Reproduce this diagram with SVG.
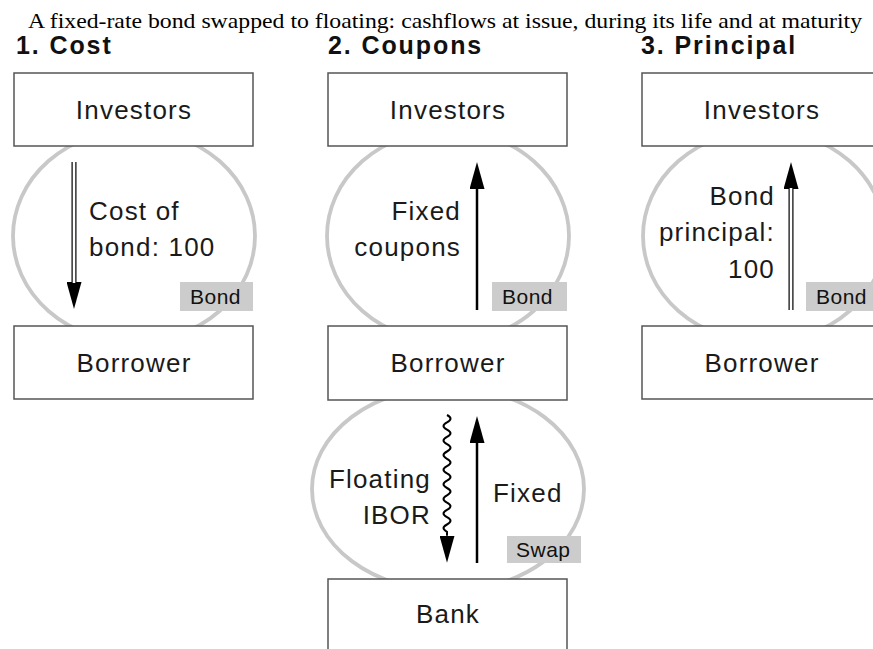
<svg xmlns="http://www.w3.org/2000/svg" width="873" height="649" viewBox="0 0 873 649">
<style>
.title{font-family:"Liberation Serif","Times New Roman",serif;font-size:21px;fill:#000}
.head{font-family:"Liberation Sans",Arial,sans-serif;font-size:25px;font-weight:bold;fill:#111;letter-spacing:1.9px}
.box{fill:#fff;stroke:#555;stroke-width:1.5}
.lbl{font-family:"Liberation Sans",Arial,sans-serif;font-size:26px;fill:#1a1a1a;letter-spacing:1.2px}
.ring{fill:none;stroke:#c8c8c8;stroke-width:3.8}
.tag{fill:#cccccc}
.tagt{font-family:"Liberation Sans",Arial,sans-serif;font-size:21px;fill:#111;letter-spacing:0.5px}
.arr{stroke:#000;stroke-width:2.5;fill:none}
.dbl{stroke:#000;stroke-width:5;fill:none}
.dbli{stroke:#fff;stroke-width:2.6;fill:none}
.wave{stroke:#000;stroke-width:2;fill:none}
</style>
<defs>
<marker id="head" markerUnits="userSpaceOnUse" markerWidth="27" markerHeight="15" refX="0" refY="7.5" orient="auto">
<path d="M0,0 L27,7.5 L0,15 z" fill="#000"/>
</marker>
</defs>

<text class="title" x="28" y="28" textLength="834" lengthAdjust="spacingAndGlyphs">A fixed-rate bond swapped to floating: cashflows at issue, during its life and at maturity</text>
<text class="head" x="16" y="54">1. Cost</text>
<text class="head" x="328" y="54">2. Coupons</text>
<text class="head" x="641" y="54">3. Principal</text>

<g id="rings">
<ellipse class="ring" cx="134" cy="236" rx="121" ry="106"/>
<ellipse class="ring" cx="448" cy="236" rx="121" ry="106"/>
<ellipse class="ring" cx="764" cy="236" rx="121" ry="106"/>
<ellipse class="ring" cx="448" cy="489" rx="136" ry="102"/>
</g>

<g id="connectors">
<line class="dbl" x1="74" y1="162" x2="74" y2="282" marker-end="url(#head)"/>
<line class="dbli" x1="74" y1="160" x2="74" y2="283"/>
<line class="arr" x1="477" y1="310" x2="477" y2="189" marker-end="url(#head)"/>
<line class="dbl" x1="791" y1="310" x2="791" y2="189" marker-end="url(#head)"/>
<line class="dbli" x1="791" y1="312" x2="791" y2="188"/>
<path class="wave" d="M447,415 q7,3.6 0,7.3 q-7,3.6 0,7.3 q7,3.6 0,7.3 q-7,3.6 0,7.3 q7,3.6 0,7.3 q-7,3.6 0,7.3 q7,3.6 0,7.3 q-7,3.6 0,7.3 q7,3.6 0,7.3 q-7,3.6 0,7.3 q7,3.6 0,7.3 q-7,3.6 0,7.3 q7,3.6 0,7.3 q-7,3.6 0,7.3 q7,3.6 0,7.3 q-7,3.6 0,7.3 l0,4" marker-end="url(#head)"/>
<line class="arr" x1="477" y1="563" x2="477" y2="443" marker-end="url(#head)"/>
</g>

<g id="tags">
<rect class="tag" x="180" y="282" width="73" height="29"/>
<text class="tagt" x="190" y="304">Bond</text>
<rect class="tag" x="492" y="282" width="75" height="29"/>
<text class="tagt" x="502" y="304">Bond</text>
<rect class="tag" x="806" y="282" width="75" height="29"/>
<text class="tagt" x="816" y="304">Bond</text>
<rect class="tag" x="507" y="536" width="74" height="27"/>
<text class="tagt" x="516" y="557">Swap</text>
</g>

<g id="flowlabels">
<text class="lbl" x="89" y="220">Cost of</text>
<text class="lbl" x="89" y="256">bond: 100</text>
<text class="lbl" x="461" y="220" text-anchor="end">Fixed</text>
<text class="lbl" x="461" y="256" text-anchor="end">coupons</text>
<text class="lbl" x="775" y="205" text-anchor="end">Bond</text>
<text class="lbl" x="775" y="241" text-anchor="end">principal:</text>
<text class="lbl" x="775" y="278" text-anchor="end">100</text>
<text class="lbl" x="431" y="488" text-anchor="end">Floating</text>
<text class="lbl" x="431" y="524" text-anchor="end">IBOR</text>
<text class="lbl" x="493" y="502">Fixed</text>
</g>

<g id="investors1"><rect class="box" x="14" y="73" width="239" height="73"/><text class="lbl" x="134" y="119" text-anchor="middle">Investors</text></g>
<g id="borrower1"><rect class="box" x="14" y="326" width="239" height="73"/><text class="lbl" x="134" y="372" text-anchor="middle">Borrower</text></g>
<g id="investors2"><rect class="box" x="328" y="73" width="239" height="73"/><text class="lbl" x="448" y="119" text-anchor="middle">Investors</text></g>
<g id="borrower2"><rect class="box" x="328" y="326" width="239" height="74"/><text class="lbl" x="448" y="372" text-anchor="middle">Borrower</text></g>
<g id="bank"><rect class="box" x="328" y="579" width="239" height="74"/><text class="lbl" x="448" y="623" text-anchor="middle">Bank</text></g>
<g id="investors3"><rect class="box" x="642" y="73" width="239" height="73"/><text class="lbl" x="762" y="119" text-anchor="middle">Investors</text></g>
<g id="borrower3"><rect class="box" x="642" y="326" width="239" height="73"/><text class="lbl" x="762" y="372" text-anchor="middle">Borrower</text></g>
</svg>
